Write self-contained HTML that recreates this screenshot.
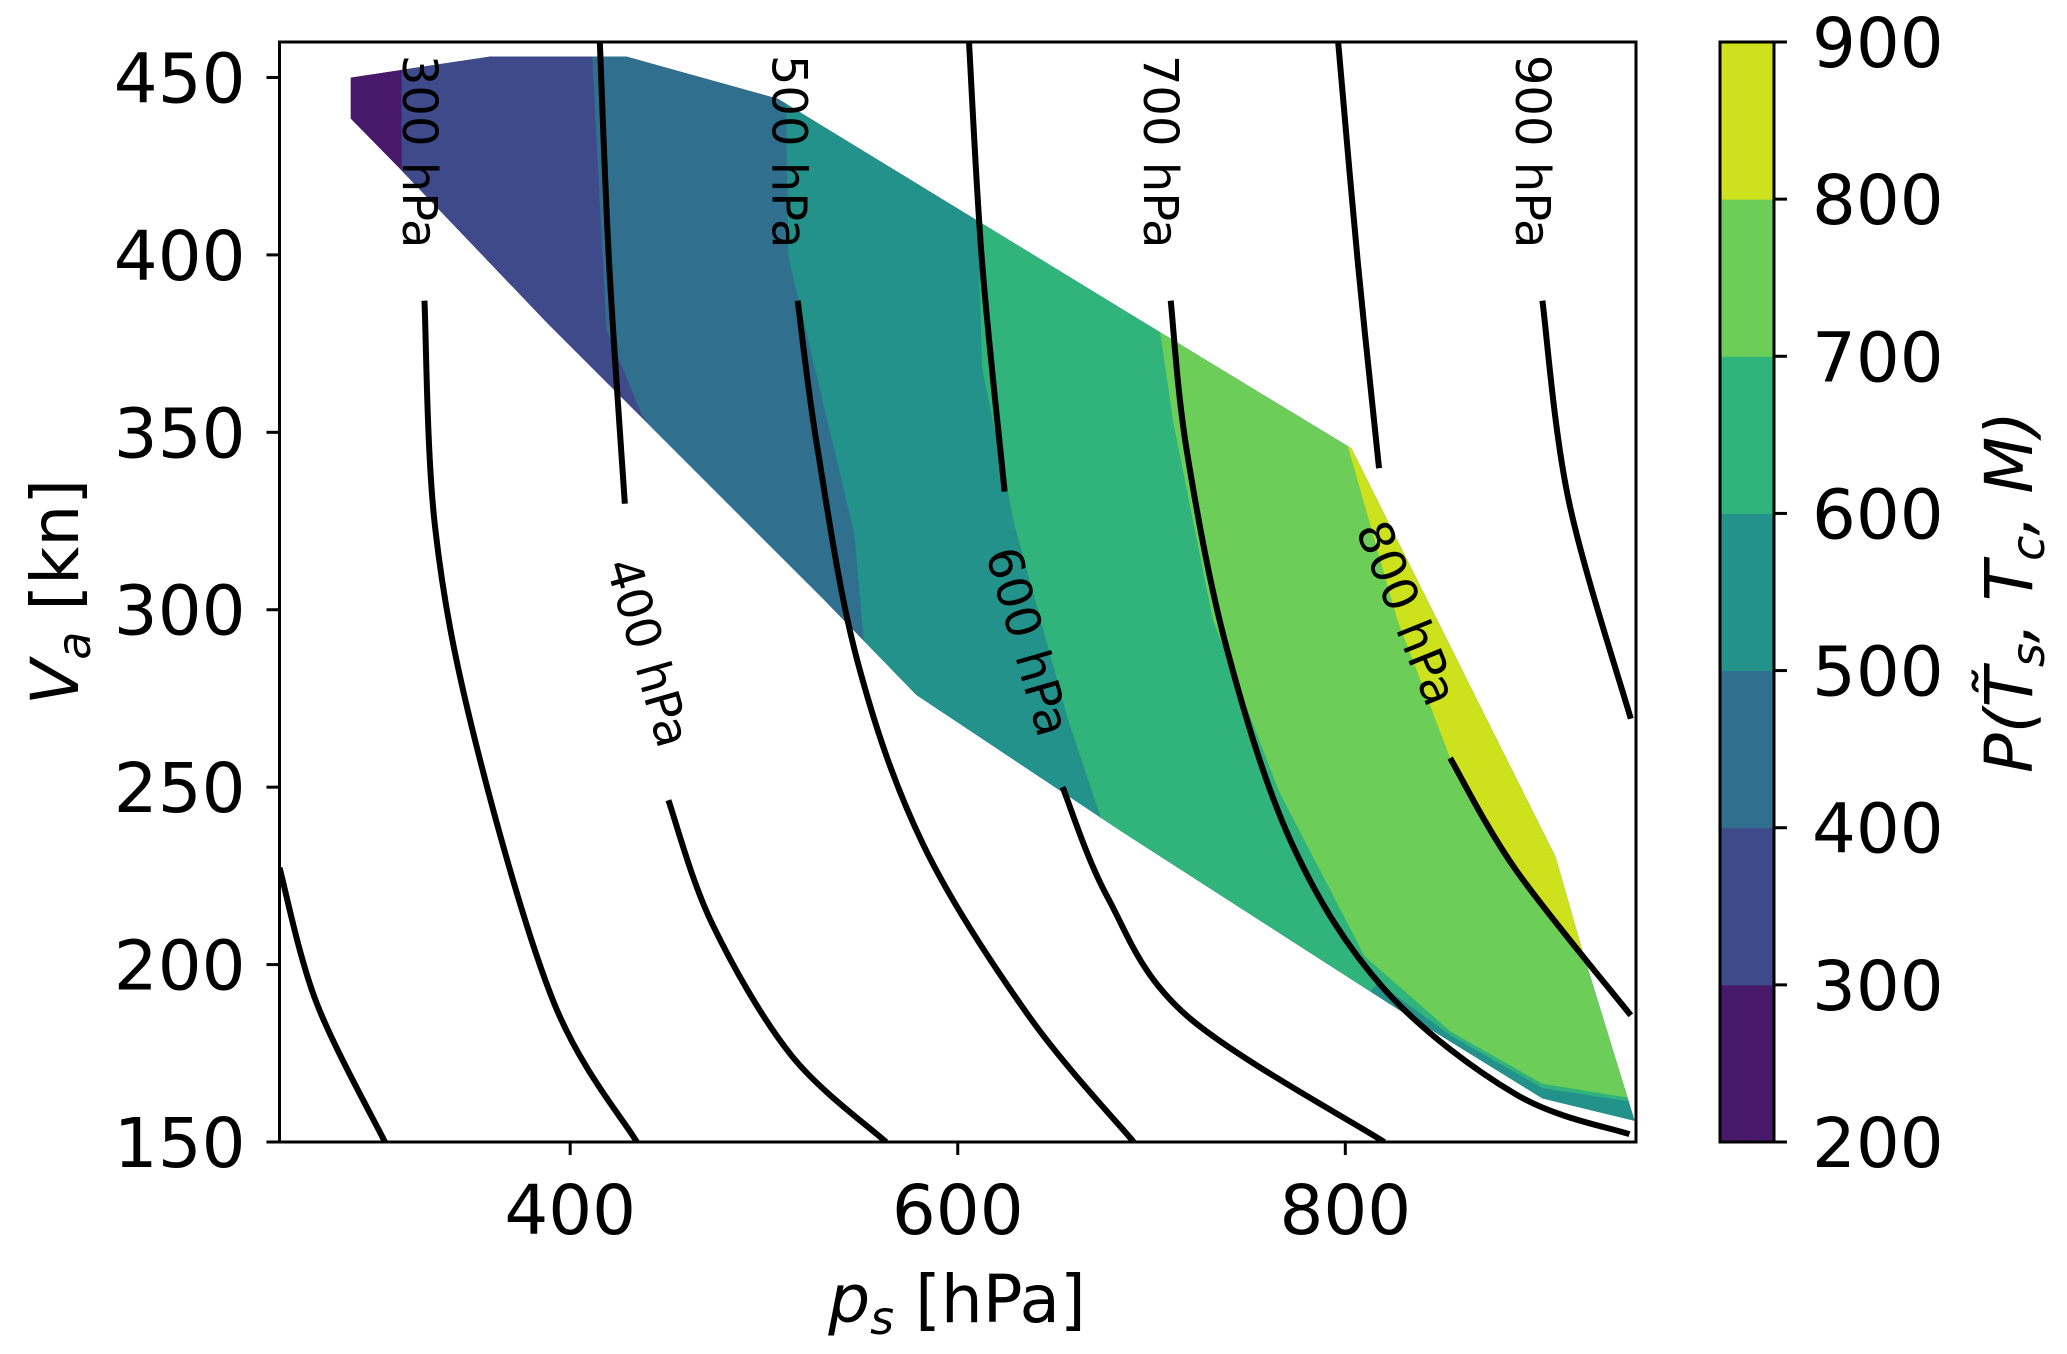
<!DOCTYPE html>
<html><head><meta charset="utf-8"><style>
html,body{margin:0;padding:0;background:#fff;}
svg{display:block;font-family:"DejaVu Sans","Liberation Sans",sans-serif;}
</style></head><body>
<svg id="chart" width="2067" height="1354" viewBox="0 0 2067 1354" xmlns="http://www.w3.org/2000/svg">
<defs><clipPath id="hullclip"><path id="hullpath" d=""/></clipPath>
<clipPath id="plotclip"><rect x="279.5" y="42" width="1356.5" height="1100"/></clipPath></defs>
<g id="bands" clip-path="url(#hullclip)"></g>
<g id="isobars" clip-path="url(#plotclip)"></g>
<g id="isolabels"></g>
<rect x="279.5" y="42" width="1356.5" height="1100" fill="none" stroke="#000" stroke-width="3"/>
<g id="axes"></g>
<g id="cbar"></g>
<text x="957" y="1322" font-size="66" text-anchor="middle"><tspan font-style="italic">p</tspan><tspan font-style="italic" font-size="46" dy="12">s</tspan><tspan dy="-12"> [hPa]</tspan></text>
<text transform="translate(78,592) rotate(-90)" font-size="66" text-anchor="middle"><tspan font-style="italic">V</tspan><tspan font-style="italic" font-size="46" dy="12">a</tspan><tspan dy="-12"> [kn]</tspan></text>
<text transform="translate(2032,592) rotate(-90)" font-size="66" text-anchor="middle" font-style="italic">P(T̃<tspan font-size="46" dy="12">s</tspan><tspan dy="-12">, T</tspan><tspan font-size="46" dy="12">c</tspan><tspan dy="-12">, M)</tspan></text>
</svg>
<script>
const xDomain=[250,950], yDomain=[150,460];
const xTicks=[400,600,800];
const yTicks=[150,200,250,300,350,400,450];
const cbarLevels=[200,300,400,500,600,700,800,900];
const bandColors=['#48186a','#3e4a89','#306f8e','#23928b','#30b47b','#6dcd59','#cde11d'];
const hull=[[286.7,450],[358.8,455.9],[428.9,455.9],[507.2,444],[704.4,378.2],[803.1,345.5],[908.5,230.3],[922.1,204.3],[949.3,156],[901.7,162.3],[826.9,187.5],[684,237.7],[578.6,276],[531,302.8],[435.7,354.8],[388.1,380.8],[313.3,423.6],[286.7,438.4]];
const line300=[[313,470],[313,400]];
const line400=[[410,470],[418.7,379],[437.1,354.8],[470,330]];
const line500=[[510.6,470],[512.6,399.4],[546.6,321.4],[551.4,291.6],[554.8,278.6]];
const line600=[[607.1,470],[612.6,367.8],[629.6,323.2],[656.8,269.3],[673.8,241.4],[684,226.7],[806.5,187.5],[816.7,195],[854.1,180.1],[901.7,165.2],[990,157.8]];
const line700=[[704.4,470],[704.4,378.2],[711.2,353],[731.6,297.2],[765.7,248.9],[809.9,202.4],[854.1,181.2],[901.7,166.4],[990,158.6]];
const line800=[[799.7,349.2],[826.9,297.2],[854.1,258.2],[888.1,226.6],[922.1,202.4],[990,198.7]];
const isoA=[[250,227.3],[269,189.4],[304.4,150]];
const iso300=[[324.8,387.1],[330.3,323.2],[350.7,263.7],[391.5,189.4],[434.4,150]];
const iso400a=[[415.3,460],[420.1,397.6],[428.2,329.9]];
const iso400b=[[450.7,246.3],[473.1,211.7],[514,174.5],[563,150]];
const iso500=[[517.4,387.1],[527.6,345.5],[548,286],[582,234],[636.4,185.7],[690.8,150]];
const iso600a=[[605.8,460],[612.6,397.6],[624.2,333.3]];
const iso600b=[[654.1,250],[677.2,219.1],[718,185.7],[820.1,150]];
const iso700=[[709.9,387.1],[718,345.5],[738.5,289.8],[772.5,234],[820.1,193.1],[888.1,163.4],[946.6,152.2]];
const iso800a=[[796.3,460],[806.5,397.6],[817.4,339.9]];
const iso800b=[[854.1,258.2],[888.1,226.6],[947.3,185.7]];
const iso900=[[901.7,387.1],[915.3,330.7],[947.3,269.3]];
const isoLabelText=['300 hPa','400 hPa','500 hPa','600 hPa','700 hPa','800 hPa','900 hPa'];
const isoLabelPos=[[322.1,429.1],[440,287.9],[512.6,429.1],[636,291],[704.4,429.1],[831.5,299],[896.3,429.1]];
const isoLabelRot=[90,74,90,74,90,68,90];

const L=279.5,R=1636,T=42,B=1142;
const sx=p=>L+(p-xDomain[0])/(xDomain[1]-xDomain[0])*(R-L);
const sy=v=>B-(v-yDomain[0])/(yDomain[1]-yDomain[0])*(B-T);
const NS='http://www.w3.org/2000/svg';
const mk=(t,a,parent)=>{const e=document.createElementNS(NS,t);for(const k in a)e.setAttribute(k,a[k]);parent.appendChild(e);return e;};
const pts=arr=>arr.map(d=>sx(d[0]).toFixed(1)+','+sy(d[1]).toFixed(1));
document.getElementById('hullpath').setAttribute('d','M'+pts(hull).join('L')+'Z');

const bands=document.getElementById('bands');
let base=mk('path',{d:'M'+pts(hull).join('L')+'Z',fill:bandColors[0]},bands);


const lines=[line300,line400,line500,line600,line700];
lines.forEach((ln,i)=>{
  const last=ln[ln.length-1],first=ln[0];
  const poly=ln.concat([[last[0],100],[1100,100],[1100,500],[first[0],500]]);
  const e=mk('path',{d:'M'+pts(poly).join('L')+'Z',fill:bandColors[i+1]},bands);
  
  
});
{
  const ln=line800,last=ln[ln.length-1],first=ln[0];
  const poly=ln.concat([[1100,last[1]],[1100,500],[first[0],500]]);
  const e=mk('path',{d:'M'+pts(poly).join('L')+'Z',fill:bandColors[6]},bands);
  
  
}
function smooth(arr){
  const P=arr.map(d=>[sx(d[0]),sy(d[1])]);
  let d='M'+P[0][0]+','+P[0][1];
  for(let i=0;i<P.length-1;i++){
    const p0=P[Math.max(i-1,0)],p1=P[i],p2=P[i+1],p3=P[Math.min(i+2,P.length-1)];
    const c1=[p1[0]+(p2[0]-p0[0])/6,p1[1]+(p2[1]-p0[1])/6];
    const c2=[p2[0]-(p3[0]-p1[0])/6,p2[1]-(p3[1]-p1[1])/6];
    d+='C'+c1.join(',')+' '+c2.join(',')+' '+p2.join(',');
  }
  return d;
}
const iso=document.getElementById('isobars');
[isoA,iso300,iso400a,iso400b,iso500,iso600a,iso600b,iso700,iso800a,iso800b,iso900].forEach((c,i)=>{
  const e=mk('path',{d:smooth(c),fill:'none',stroke:'#000','stroke-width':6},iso);
  
  
});
const il=document.getElementById('isolabels');
isoLabelText.forEach((t,i)=>{
  const x=sx(isoLabelPos[i][0]),y=sy(isoLabelPos[i][1]);
  const e=mk('text',{transform:`translate(${x},${y}) rotate(${isoLabelRot[i]})`,'font-size':48,'text-anchor':'middle','dominant-baseline':'central'},il);
  e.textContent=t;
  
  
});
const ax=document.getElementById('axes');
xTicks.forEach(v=>{
  const x=sx(v);
  const l=mk('line',{x1:x,x2:x,y1:B,y2:B+13,stroke:'#000','stroke-width':3},ax);
  
  
  const t=mk('text',{x:x,y:B+92,'font-size':69,'text-anchor':'middle'},ax);
  t.textContent=v;
  
  
});
yTicks.forEach(v=>{
  const y=sy(v);
  const l=mk('line',{x1:L-13,x2:L,y1:y,y2:y,stroke:'#000','stroke-width':3},ax);
  
  
  const t=mk('text',{x:L-34,y:y+25,'font-size':69,'text-anchor':'end'},ax);
  t.textContent=v;
  
  
});
const cb=document.getElementById('cbar');
const CL=1720,CR=1774,n=cbarLevels.length-1;
const cy=v=>B-(v-cbarLevels[0])/(cbarLevels[n]-cbarLevels[0])*(B-T);
for(let i=0;i<n;i++){
  const y1=cy(cbarLevels[i+1]),y0=cy(cbarLevels[i]);
  const r=mk('rect',{x:CL,y:y1,width:CR-CL,height:y0-y1+0.5,fill:bandColors[i]},cb);
  
  
}
mk('rect',{x:CL,y:T,width:CR-CL,height:B-T,fill:'none',stroke:'#000','stroke-width':3},cb);
cbarLevels.forEach(v=>{
  const y=cy(v);
  const l=mk('line',{x1:CR,x2:CR+13,y1:y,y2:y,stroke:'#000','stroke-width':3},cb);
  
  
  const t=mk('text',{x:CR+38,y:y+25,'font-size':69},cb);
  t.textContent=v;
  
  
});
</script>
</body></html>
